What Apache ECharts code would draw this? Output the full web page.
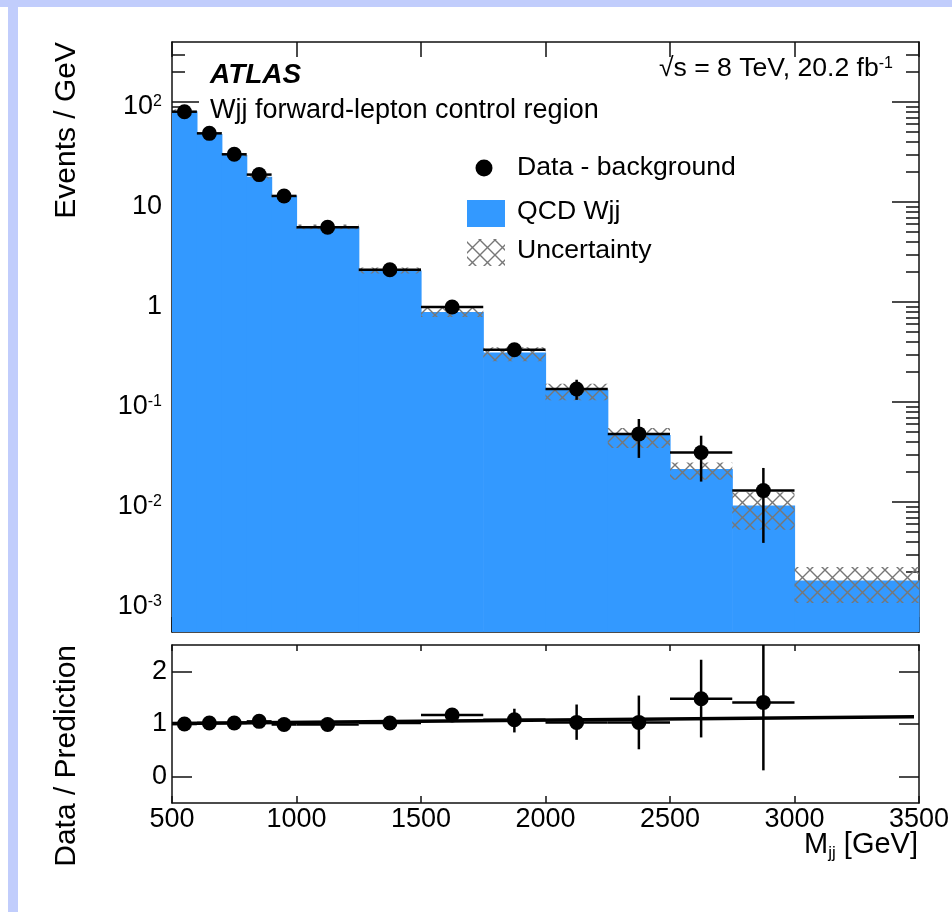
<!DOCTYPE html>
<html><head><meta charset="utf-8">
<script src="https://cdn.jsdelivr.net/npm/echarts@6/dist/echarts.min.js"></script>
<style>html,body{margin:0;padding:0;background:#fff;} #c{width:952px;height:912px;}</style>
</head><body><div id="c"></div>
<script>
// ---------------- data ----------------
const binEdges = [500, 600, 700, 800, 900, 1000, 1250, 1500, 1750, 2000, 2250, 2500, 2750, 3000, 3500];
const qcdWjj   = [81, 48, 29.5, 17.9, 11.6, 5.66, 2.07, 0.794, 0.313, 0.133, 0.0468, 0.0214, 0.00925, 0.00164];
const uncLow   = [77.5, 46, 28.3, 17.2, 11.1, 5.35, 1.93, 0.708, 0.255, 0.104, 0.0347, 0.0167, 0.00528, 0.00098];
const uncHigh  = [84.5, 50, 30.7, 18.6, 12.1, 5.97, 2.21, 0.903, 0.352, 0.152, 0.055, 0.0249, 0.0125, 0.00224];
const dataVals = [80, 48.6, 30, 18.8, 11.5, 5.6, 2.1, 0.89, 0.333, 0.135, 0.048, 0.0313, 0.013];
const dataLow  = [78, 47.5, 29.3, 18.3, 11.1, 5.4, 2.0, 0.83, 0.30, 0.105, 0.0276, 0.016, 0.0039];
const dataHigh = [82, 49.7, 30.7, 19.3, 11.9, 5.8, 2.2, 0.95, 0.37, 0.167, 0.0676, 0.046, 0.0219];
const ratioVals = [1.00, 1.02, 1.02, 1.05, 0.99, 0.99, 1.02, 1.17, 1.08, 1.03, 1.03, 1.48, 1.41];
const ratioLow  = [0.98, 1.00, 1.00, 1.03, 0.97, 0.96, 0.98, 1.09, 0.84, 0.70, 0.52, 0.745, 0.12];
const ratioHigh = [1.02, 1.04, 1.04, 1.07, 1.01, 1.02, 1.06, 1.25, 1.29, 1.37, 1.54, 2.22, 2.6];
const ratioLineX = [500, 3480];
const ratioLineY = [1.01, 1.14];
const logMajorTicks = [0.001, 0.01, 0.1, 1, 10, 100];
const ratioTicks = [0, 1, 2];
const xTickStep = 500;

// ---------------- setup ----------------
const FONT = '"Liberation Sans", Arial, Helvetica, sans-serif';
const Y_MIN = Math.pow(10, -3.3), Y_MAX = Math.pow(10, 2.6);
const R_MIN = -0.5, R_MAX = 2.5;
const BLUE = '#3399ff';
const FRAME = '#111';

const minorVals = [];
for (let e = -4; e <= 2; e++) for (let k = 2; k <= 9; k++) {
  const v = k * Math.pow(10, e);
  if (v > Y_MIN && v < Y_MAX) minorVals.push(v);
}

function hatchCanvas() {
  const c = document.createElement('canvas'); c.width = 15; c.height = 15;
  const g = c.getContext('2d'); g.strokeStyle = '#777'; g.lineWidth = 1.4;
  g.beginPath();
  g.moveTo(-2, -2); g.lineTo(17, 17);
  g.moveTo(17, -2); g.lineTo(-2, 17);
  g.stroke();
  return c;
}
const HATCH = { image: hatchCanvas(), repeat: 'repeat' };

const histData = qcdWjj.map((v, i) => [binEdges[i], binEdges[i + 1], v]);
const uncData = qcdWjj.map((v, i) => [binEdges[i], binEdges[i + 1], uncLow[i], uncHigh[i]]);
const dataErr = dataVals.map((v, i) => [(binEdges[i] + binEdges[i + 1]) / 2, v, dataLow[i], dataHigh[i], binEdges[i], binEdges[i + 1]]);
const dataPts = dataVals.map((v, i) => [(binEdges[i] + binEdges[i + 1]) / 2, v]);
const ratioErr = ratioVals.map((v, i) => [(binEdges[i] + binEdges[i + 1]) / 2, v, ratioLow[i], ratioHigh[i], binEdges[i], binEdges[i + 1]]);
const ratioPts = ratioVals.map((v, i) => [(binEdges[i] + binEdges[i + 1]) / 2, v]);
const ratioLineData = ratioLineX.map((x, i) => [x, ratioLineY[i]]);

function fmtPow(v) {
  const e = Math.round(Math.log10(v));
  if (Math.abs(Math.log10(v) - e) > 1e-6) return '';
  if (e === 0) return '1';
  if (e === 1) return '10';
  return '10{sup|' + e + '}';
}
const supStyle = { fontSize: 16, fontFamily: FONT, color: '#000', verticalAlign: 'top', lineHeight: 16 };

function clampY(p, cs) { return Math.max(cs.y, Math.min(cs.y + cs.height, p)); }

function errRender(params, api) {
  const cs = params.coordSys;
  const xc = api.value(0), y = api.value(1), lo = api.value(2), hi = api.value(3), x0 = api.value(4), x1 = api.value(5);
  const pl = api.coord([x0, y]), pr = api.coord([x1, y]);
  const pt = api.coord([xc, hi]), pb = api.coord([xc, lo]);
  return { type: 'group', children: [
    { type: 'line', shape: { x1: pl[0], y1: pl[1], x2: pr[0], y2: pr[1] }, style: { stroke: '#000', lineWidth: 2.5 } },
    { type: 'line', shape: { x1: pt[0], y1: clampY(pt[1], cs), x2: pb[0], y2: clampY(pb[1], cs) }, style: { stroke: '#000', lineWidth: 2.5 } }
  ]};
}

function xAxisCfg(grid, pos, tickLen, showLabel) {
  return { type: 'value', gridIndex: grid, position: pos, min: 500, max: 3500, interval: xTickStep,
    axisLine: { show: true, onZero: false, lineStyle: { color: FRAME, width: 1.5 } },
    axisTick: { show: true, inside: true, length: tickLen, lineStyle: { color: FRAME, width: 1.5 } },
    axisLabel: { show: showLabel, margin: 3, fontSize: 27, fontFamily: FONT, color: '#000', formatter: v => String(v) },
    splitLine: { show: false } };
}
function logAxisCfg(pos, ticks, tickLen, showLabel, showLine) {
  return { type: 'log', logBase: 10, gridIndex: 0, position: pos, min: Y_MIN, max: Y_MAX,
    axisLine: { show: showLine, lineStyle: { color: FRAME, width: 1.5 } },
    axisTick: { show: true, inside: true, length: tickLen, customValues: ticks, lineStyle: { color: FRAME, width: 1.5 } },
    axisLabel: { show: showLabel, customValues: ticks, margin: 10, formatter: fmtPow, fontSize: 27, fontFamily: FONT,
      color: '#000', lineHeight: 27, padding: [10, 0, 0, 0], rich: { sup: supStyle } },
    splitLine: { show: false }, minorTick: { show: false } };
}
function ratioAxisCfg(pos, showLabel) {
  return { type: 'value', gridIndex: 1, position: pos, min: R_MIN, max: R_MAX,
    axisLine: { show: true, onZero: false, lineStyle: { color: FRAME, width: 1.5 } },
    axisTick: { show: true, inside: true, length: 20, customValues: ratioTicks, lineStyle: { color: FRAME, width: 1.5 } },
    axisLabel: { show: showLabel, customValues: ratioTicks, margin: 5, fontSize: 27, fontFamily: FONT, color: '#000', padding: [7, 0, 0, 0] },
    splitLine: { show: false } };
}

const txt = (x, y, text, o) => Object.assign({ type: 'text', x: x, y: y, style: Object.assign({
  text: text, fill: '#000', fontSize: 26.6, fontFamily: FONT, align: 'left', textAlign: 'left', verticalAlign: 'middle', textVerticalAlign: 'middle'
}, o && o.style || {}) }, o && o.el || {});

const option = {
  animation: false,
  backgroundColor: '#fff',
  grid: [
    { left: 172, top: 42, width: 747, height: 590, containLabel: false, outerBoundsMode: 'none' },
    { left: 172, top: 645, width: 747, height: 158, containLabel: false, outerBoundsMode: 'none' }
  ],
  xAxis: [
    xAxisCfg(0, 'bottom', 15, false),
    xAxisCfg(0, 'top', 15, false),
    xAxisCfg(1, 'bottom', 7, true),
    xAxisCfg(1, 'top', 6, false)
  ],
  yAxis: [
    logAxisCfg('left', logMajorTicks, 27, true, true),
    logAxisCfg('right', logMajorTicks, 27, false, true),
    logAxisCfg('left', minorVals, 13, false, false),
    logAxisCfg('right', minorVals, 13, false, false),
    ratioAxisCfg('left', true),
    ratioAxisCfg('right', false)
  ],
  series: [
    { type: 'custom', name: 'QCD Wjj', xAxisIndex: 0, yAxisIndex: 0, z: 1, data: histData, encode: { x: [0, 1], y: 2 },
      renderItem: (params, api) => {
        const p0 = api.coord([api.value(0), api.value(2)]);
        const p1 = api.coord([api.value(1), Y_MIN]);
        return { type: 'rect', shape: { x: p0[0], y: p0[1], width: p1[0] - p0[0] + 0.6, height: p1[1] - p0[1] }, style: { fill: BLUE } };
      } },
    { type: 'custom', name: 'Uncertainty', xAxisIndex: 0, yAxisIndex: 0, z: 2, data: uncData, encode: { x: [0, 1], y: [2, 3] },
      renderItem: (params, api) => {
        const p0 = api.coord([api.value(0), api.value(3)]);
        const p1 = api.coord([api.value(1), api.value(2)]);
        return { type: 'rect', shape: { x: p0[0], y: p0[1], width: p1[0] - p0[0], height: p1[1] - p0[1] }, style: { fill: HATCH } };
      } },
    { type: 'custom', name: 'Data err', xAxisIndex: 0, yAxisIndex: 0, z: 3, data: dataErr, encode: { x: 0, y: 1 }, renderItem: errRender },
    { type: 'scatter', name: 'Data - background', xAxisIndex: 0, yAxisIndex: 0, z: 4, data: dataPts, symbol: 'circle', symbolSize: 15,
      itemStyle: { color: '#000', opacity: 1 } },
    { type: 'line', name: 'ratio line', xAxisIndex: 2, yAxisIndex: 4, z: 2, data: ratioLineData, symbol: 'none',
      lineStyle: { color: '#000', width: 3.5 } },
    { type: 'custom', name: 'Ratio err', xAxisIndex: 2, yAxisIndex: 4, z: 3, data: ratioErr, encode: { x: 0, y: 1 }, renderItem: errRender },
    { type: 'scatter', name: 'Ratio', xAxisIndex: 2, yAxisIndex: 4, z: 4, data: ratioPts, symbol: 'circle', symbolSize: 15,
      itemStyle: { color: '#000', opacity: 1 } }
  ],
  graphic: [
    { type: 'rect', x: 0, y: 0, shape: { x: 0, y: 0, width: 952, height: 7 }, style: { fill: '#c1cdfc' } },
    { type: 'rect', x: 0, y: 0, shape: { x: 8, y: 7, width: 10, height: 905 }, style: { fill: '#c1cdfc' } },
    txt(210, 75, 'ATLAS', { style: { fontSize: 28, fontStyle: 'italic', fontWeight: 'bold' } }),
    txt(210, 111, 'Wjj forward-lepton control region', { style: { fontSize: 27 } }),
    txt(893, 69, '√s = 8 TeV, 20.2 fb{sup|-1}', { style: { align: 'right', textAlign: 'right',
      rich: { sup: { fontSize: 16, fontFamily: FONT, fill: '#000', verticalAlign: 'top', lineHeight: 16 } } } }),
    { type: 'circle', x: 0, y: 0, shape: { cx: 484, cy: 168, r: 8.5 }, style: { fill: '#000' } },
    txt(517, 168, 'Data - background'),
    { type: 'rect', x: 0, y: 0, shape: { x: 467, y: 200, width: 38, height: 27 }, style: { fill: BLUE } },
    txt(517, 212, 'QCD Wjj'),
    { type: 'rect', x: 0, y: 0, shape: { x: 467, y: 239, width: 38, height: 27 }, style: { fill: HATCH } },
    txt(517, 251, 'Uncertainty'),
    txt(67, 42, 'Events / GeV', { style: { fontSize: 30, align: 'right', textAlign: 'right' }, el: { rotation: Math.PI / 2 } }),
    txt(67, 645, 'Data / Prediction', { style: { fontSize: 30, align: 'right', textAlign: 'right' }, el: { rotation: Math.PI / 2 } }),
    txt(918, 845, 'M{sub|jj} [GeV]', { style: { fontSize: 29, align: 'right', textAlign: 'right',
      rich: { sub: { fontSize: 17, fontFamily: FONT, fill: '#000', verticalAlign: 'top', padding: [16, 0, 0, 0] } } } })
  ]
};

const chart = echarts.init(document.getElementById('c'), null, { renderer: 'canvas' });
chart.setOption(option);
</script>
</body></html>
